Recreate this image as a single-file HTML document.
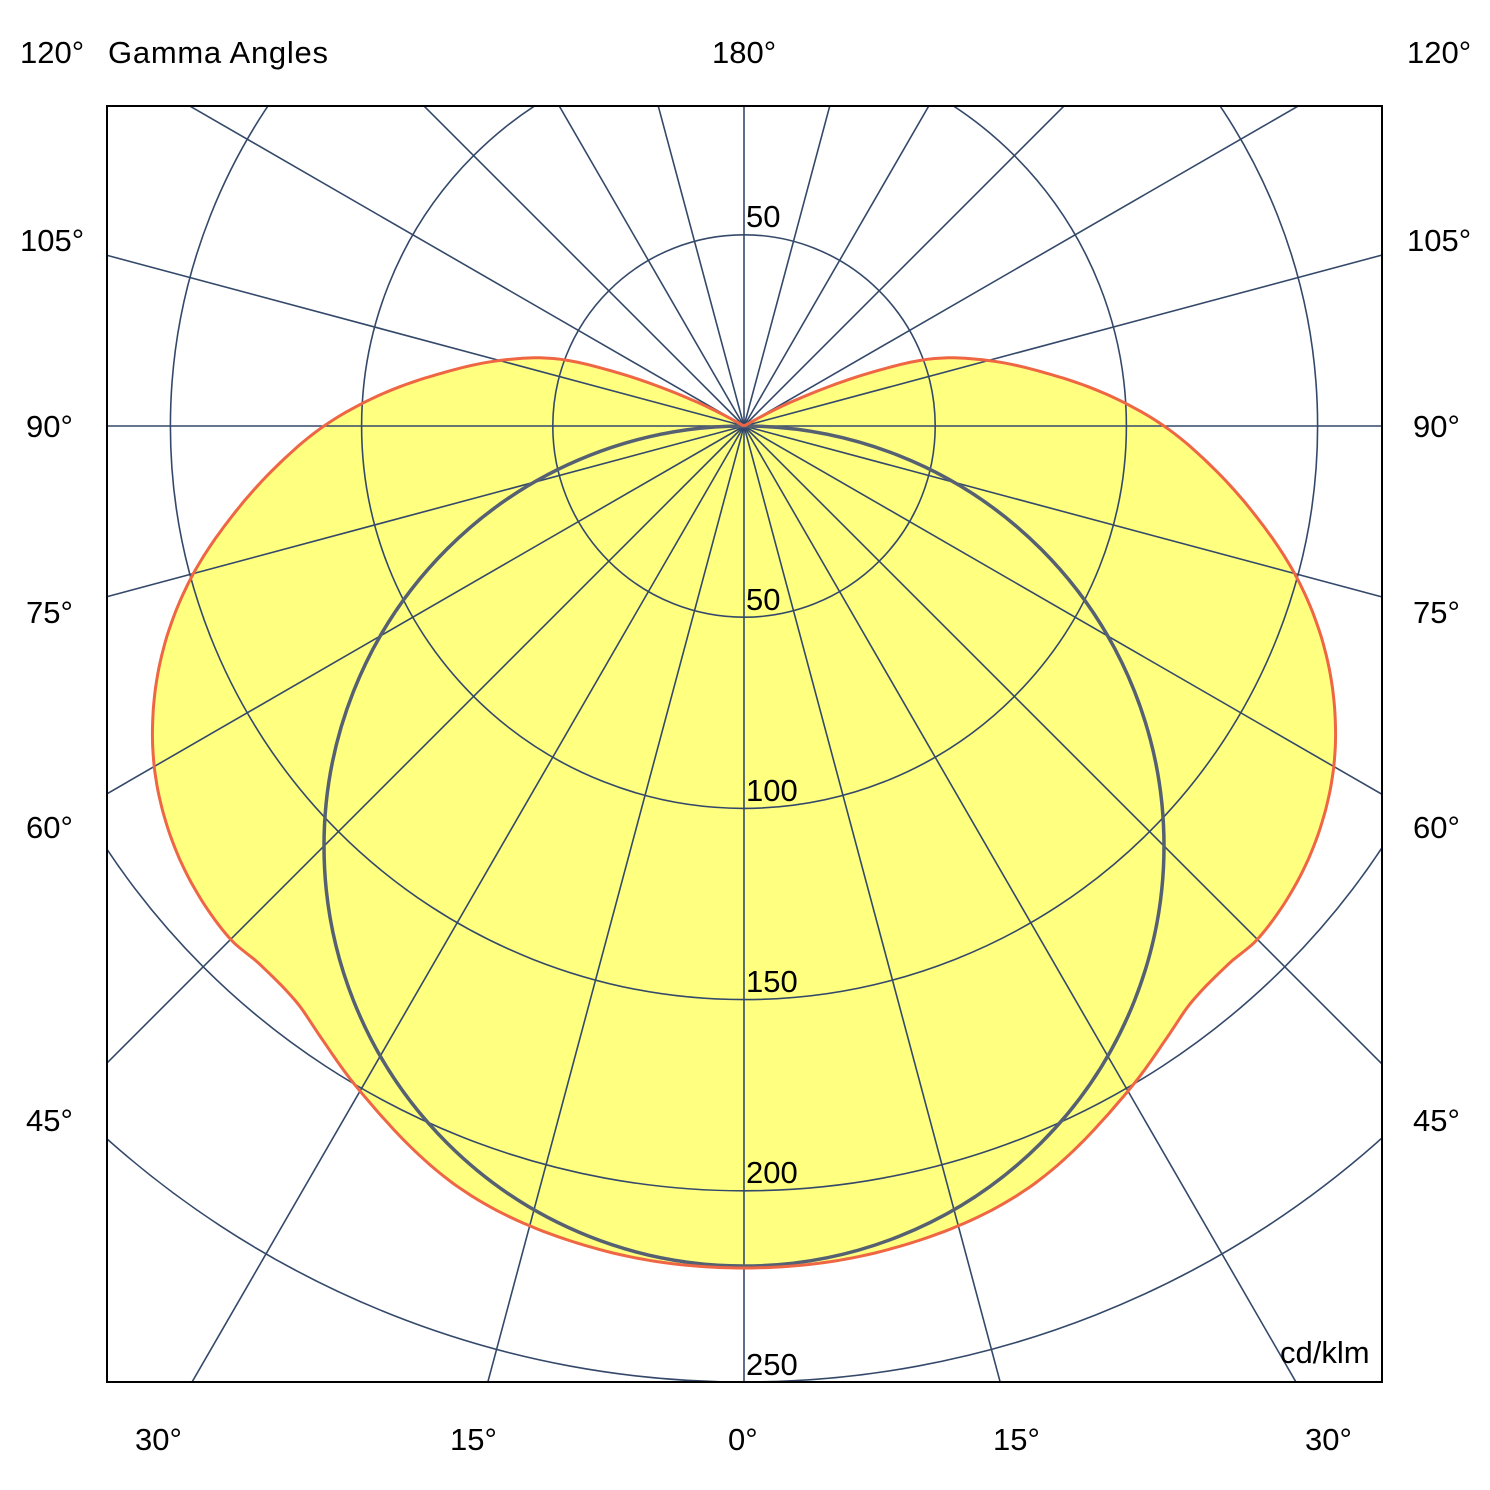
<!DOCTYPE html>
<html><head><meta charset="utf-8"><style>
html,body{margin:0;padding:0;background:#fff;width:1490px;height:1490px;overflow:hidden}
svg{display:block;position:absolute;left:0;top:0}
text{font-family:"Liberation Sans",Arial,sans-serif;font-size:31px;fill:#000}
</style></head><body>
<svg id="s" width="1490" height="1490" viewBox="0 0 1490 1490" xmlns="http://www.w3.org/2000/svg">
<defs><clipPath id="c"><rect x="107" y="106" width="1275" height="1276"/></clipPath></defs>
<rect width="1490" height="1490" fill="#fff"/>
<g clip-path="url(#c)">
<path id="fill" fill="#ffff80" stroke="none"/>
<g id="grid" fill="none" stroke="#34496a" stroke-width="1.6"></g>
<circle cx="744" cy="846" r="420" fill="none" stroke="#556072" stroke-width="3.5"/>
<path id="orange" fill="none" stroke="#ee6644" stroke-width="3"/>
</g>
<rect x="107" y="106" width="1275" height="1276" fill="none" stroke="#000" stroke-width="2"/>
<text x="20" y="63">120°</text>
<text x="108" y="63" textLength="220">Gamma Angles</text>
<text x="712" y="63">180°</text>
<text x="1407" y="63">120°</text>
<text x="20" y="251">105°</text><text x="1407" y="251">105°</text>
<text x="26" y="437">90°</text><text x="1413" y="437">90°</text>
<text x="26" y="623">75°</text><text x="1413" y="623">75°</text>
<text x="26" y="838">60°</text><text x="1413" y="838">60°</text>
<text x="26" y="1131">45°</text><text x="1413" y="1131">45°</text>
<text x="135" y="1450">30°</text><text x="450" y="1450">15°</text>
<text x="728" y="1450">0°</text><text x="993" y="1450">15°</text>
<text x="1305" y="1450">30°</text>
<text x="746" y="227">50</text>
<text x="746" y="610">50</text>
<text x="746" y="801">100</text>
<text x="746" y="992">150</text>
<text x="746" y="1183">200</text>
<text x="746" y="1375">250</text>
<text x="1280" y="1363">cd/klm</text>
</svg>
<script>
var cx=744,cy=426,ns="http://www.w3.org/2000/svg",g=document.getElementById('grid');
for(var i=1;i<=5;i++){var c=document.createElementNS(ns,'circle');c.setAttribute('cx',cx);c.setAttribute('cy',cy);c.setAttribute('r',191.2*i);g.appendChild(c);}
for(var a=0;a<360;a+=15){var r=a*Math.PI/180,l=document.createElementNS(ns,'line');l.setAttribute('x1',cx);l.setAttribute('y1',cy);l.setAttribute('x2',cx+2000*Math.sin(r));l.setAttribute('y2',cy+2000*Math.cos(r));g.appendChild(l);}
var T=[[-10,836],[0,842],[10,836],[20,815],[30,768],[35,742],[38,729],[42,724],[45,726],[50,718],[55,703],[60,681],[65,651],[70,614],[75,570],[80,520],[85,470],[90,420],[95,364],[100,306],[105,253],[110,195],[113,135],[116,70],[118,35],[120,0],[122,0]];
function rad(gm){for(var i=1;i<T.length-2;i++){if(gm<=T[i+1][0]){var p0=T[i-1],p1=T[i],p2=T[i+1],p3=T[i+2];var t=(gm-p1[0])/(p2[0]-p1[0]);
var h=p2[0]-p1[0];var m1=(p2[1]-p0[1])/(p2[0]-p0[0])*h,m2=(p3[1]-p1[1])/(p3[0]-p1[0])*h;
var t2=t*t,t3=t2*t;return (2*t3-3*t2+1)*p1[1]+(t3-2*t2+t)*m1+(-2*t3+3*t2)*p2[1]+(t3-t2)*m2;}}return 0;}
var pts=[];
for(var gm=120;gm>=-120;gm-=0.5){var a=Math.abs(gm),rr=Math.max(0,rad(a)),q=gm*Math.PI/180;pts.push((cx-rr*Math.sin(q)).toFixed(1)+','+(cy+rr*Math.cos(q)).toFixed(1));}
var d='M'+pts.join(' L');document.getElementById('orange').setAttribute('d',d);document.getElementById('fill').setAttribute('d',d+'Z');
</script>
</body></html>
